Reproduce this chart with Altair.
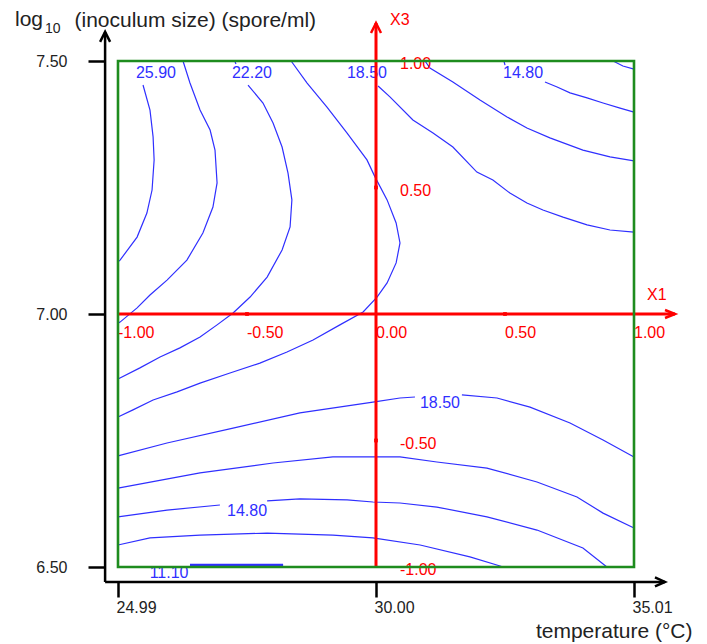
import altair as alt
import pandas as pd

FONT = "Liberation Sans, Arial, sans-serif"
BLUE = "#2f2fff"
RED = "#ff0000"
GREEN = "#1e8c1e"

# ---- contour pieces, coded units (X1 = temperature, X3 = log10 inoculum size) ----
c2590_x = [-0.903, -0.876, -0.864, -0.860, -0.868, -0.888, -0.926, -0.992, -1.0]
c2590_y = [0.905, 0.806, 0.700, 0.609, 0.490, 0.399, 0.304, 0.213, 0.206]

c2405_x = [-0.748, -0.721, -0.682, -0.643, -0.624, -0.616, -0.632, -0.671, -0.733, -0.810, -0.876, -0.926, -0.992, -1.0]
c2405_y = [1.0, 0.913, 0.806, 0.727, 0.648, 0.518, 0.423, 0.320, 0.213, 0.134, 0.075, 0.024, -0.032, -0.036]

c2220a_x = [-0.547, -0.543]
c2220a_y = [1.0, 0.988]
c2220b_x = [-0.496, -0.438, -0.399, -0.364, -0.341, -0.326, -0.333, -0.364, -0.422, -0.488, -0.554, -0.616, -0.682, -0.760, -0.837, -0.915, -1.0]
c2220b_y = [0.905, 0.834, 0.755, 0.660, 0.557, 0.451, 0.344, 0.253, 0.146, 0.067, 0.004, -0.043, -0.091, -0.134, -0.170, -0.213, -0.257]

c2035_x = [-0.329, -0.267, -0.190, -0.112, -0.035, -0.004, 0.043, 0.078, 0.093, 0.078, 0.043, 0.004, -0.050, -0.140, -0.244, -0.345, -0.450, -0.566, -0.682, -0.771, -0.864, -0.942, -1.0]
c2035_y = [1.0, 0.913, 0.818, 0.715, 0.609, 0.542, 0.451, 0.360, 0.281, 0.202, 0.123, 0.067, 0.008, -0.043, -0.103, -0.150, -0.194, -0.233, -0.273, -0.308, -0.340, -0.379, -0.407]

c1850a_x = [0.008, 0.054, 0.143, 0.221, 0.298, 0.391, 0.453, 0.519, 0.585, 0.647, 0.725, 0.818, 0.907, 1.0]
c1850a_y = [0.901, 0.858, 0.767, 0.715, 0.660, 0.561, 0.530, 0.478, 0.439, 0.411, 0.383, 0.352, 0.332, 0.324]
c1850b_x = [-1.0, -0.810, -0.554, -0.295, -0.012, 0.093, 0.151]
c1850b_y = [-0.561, -0.510, -0.451, -0.391, -0.348, -0.332, -0.328]
c1850c_x = [0.333, 0.469, 0.597, 0.752, 0.880, 1.0]
c1850c_y = [-0.320, -0.332, -0.368, -0.431, -0.498, -0.565]

c1665a_x = [0.190, 0.209, 0.298, 0.403, 0.508, 0.585, 0.674, 0.802, 0.907, 1.0]
c1665a_y = [1.0, 0.972, 0.917, 0.846, 0.779, 0.735, 0.696, 0.648, 0.621, 0.605]
c1665b_x = [-1.0, -0.682, -0.399, -0.167, -0.023, 0.093, 0.236, 0.430, 0.624, 0.779, 0.880, 1.0]
c1665b_y = [-0.688, -0.628, -0.589, -0.565, -0.565, -0.565, -0.585, -0.609, -0.664, -0.723, -0.787, -0.846]

c1480a_x = [0.496, 0.500]
c1480a_y = [1.0, 0.984]
c1480b_x = [0.655, 0.702, 0.752, 0.818, 0.880, 0.946, 1.0]
c1480b_y = [0.917, 0.897, 0.874, 0.854, 0.834, 0.814, 0.798]
c1480c_x = [-1.0, -0.810, -0.605]
c1480c_y = [-0.802, -0.775, -0.755]
c1480d_x = [-0.422, -0.295, -0.112, -0.012, 0.093, 0.236, 0.430, 0.624, 0.802, 0.895]
c1480d_y = [-0.739, -0.731, -0.735, -0.743, -0.747, -0.763, -0.802, -0.854, -0.925, -1.0]

c1295a_x = [0.919, 0.957, 1.0]
c1295a_y = [1.0, 0.980, 0.968]
c1295b_x = [-1.0, -0.876, -0.682, -0.422, -0.167, -0.012, 0.171, 0.364, 0.481, 0.492]
c1295b_y = [-0.913, -0.885, -0.874, -0.866, -0.874, -0.885, -0.913, -0.960, -0.996, -1.0]

c1110_x = [-0.721, -0.360]
c1110_y = [-0.992, -0.992]

# contour labels
lab_text = ["25.90", "22.20", "18.50", "14.80", "18.50", "14.80", "11.10"]
lab_x = [-0.853, -0.481, -0.035, 0.570, 0.248, -0.500, -0.802]
lab_y = [0.953, 0.953, 0.953, 0.953, -0.352, -0.779, -1.024]

# coded axes (red)
x1_ticks = [-1.0, -0.5, 0.0, 0.5, 1.0]
x1_labels = ["-1.00", "-0.50", "0.00", "0.50", "1.00"]
x3_ticks = [1.0, 0.5, -0.5, -1.0]
x3_labels = ["1.00", "0.50", "-0.50", "-1.00"]
x1_extent = [-1.0, 1.159]
x3_extent = [-1.0, 1.15]

# real-unit axes (black)
real_ticks = [-1, 0, 1]
temp_labels = ["24.99", "30.00", "35.01"]
inoc_labels = ["6.50", "7.00", "7.50"]
black_x_extent = [-1.050, 1.120]
black_y_extent = [-1.059, 1.115]

# ---- build tables ----
pieces = [
    ("c2590", c2590_x, c2590_y), ("c2405", c2405_x, c2405_y),
    ("c2220a", c2220a_x, c2220a_y), ("c2220b", c2220b_x, c2220b_y),
    ("c2035", c2035_x, c2035_y),
    ("c1850a", c1850a_x, c1850a_y), ("c1850b", c1850b_x, c1850b_y), ("c1850c", c1850c_x, c1850c_y),
    ("c1665a", c1665a_x, c1665a_y), ("c1665b", c1665b_x, c1665b_y),
    ("c1480a", c1480a_x, c1480a_y), ("c1480b", c1480b_x, c1480b_y),
    ("c1480c", c1480c_x, c1480c_y), ("c1480d", c1480d_x, c1480d_y),
    ("c1295a", c1295a_x, c1295a_y), ("c1295b", c1295b_x, c1295b_y),
]
rows = []
for name, xs_, ys_ in pieces:
    for i, (a, b) in enumerate(zip(xs_, ys_)):
        rows.append({"seg": name, "i": i, "x": a, "y": b})
df_lines = pd.DataFrame(rows)
df_1110 = pd.DataFrame({"seg": "c1110", "i": [0, 1], "x": c1110_x, "y": c1110_y})
df_lab = pd.DataFrame({"t": lab_text, "x": lab_x, "y": lab_y})

df_x1lab = pd.DataFrame({"x": x1_ticks, "y": [0.0] * len(x1_ticks), "t": x1_labels})
df_x3lab = pd.DataFrame({"x": [0.0] * len(x3_ticks), "y": x3_ticks, "t": x3_labels})
df_redticks = pd.DataFrame({"x": [-0.5, 0.5, 0.0, 0.0], "y": [0.0, 0.0, 0.5, -0.5]})
df_redlines = pd.DataFrame({
    "x": [x1_extent[0], 0.0], "x2": [x1_extent[1], 0.0],
    "y": [0.0, x3_extent[0]], "y2": [0.0, x3_extent[1]],
})
df_red_right = pd.DataFrame({"x": [x1_extent[1]], "y": [0.0]})
df_red_up = pd.DataFrame({"x": [0.0], "y": [x3_extent[1]]})
df_axname = pd.DataFrame({"x": [1.0, 0.0], "y": [0.0, x3_extent[1]], "t": ["X1", "X3"]})
df_box = pd.DataFrame({"x": [-1.0], "x2": [1.0], "y": [-1.0], "y2": [1.0]})
df_black = pd.DataFrame({
    "x": [black_x_extent[0], black_x_extent[0]], "x2": [black_x_extent[0], black_x_extent[1]],
    "y": [black_y_extent[0], black_y_extent[0]], "y2": [black_y_extent[1], black_y_extent[0]],
})
df_black_up = pd.DataFrame({"x": [black_x_extent[0]], "y": [black_y_extent[1]]})
df_black_right = pd.DataFrame({"x": [black_x_extent[1]], "y": [black_y_extent[0]]})


def label_expr(vals, labs):
    expr = "''"
    for v, l in zip(vals, labs):
        expr = f"datum.value == {v} ? '{l}' : ({expr})"
    return expr


xscale = alt.Scale(domain=[-1, 1], nice=False, zero=False)
yscale = alt.Scale(domain=[-1, 1], nice=False, zero=False)

xaxis = alt.Axis(
    values=real_ticks, labelExpr=label_expr(real_ticks, temp_labels),
    offset=15, tickSize=15, tickWidth=2.5, tickColor="#000", domain=False, grid=False,
    labelAlign="left", labelBaseline="top", labelPadding=2, labelOffset=-2,
    labelFont=FONT, labelFontSize=16, labelColor="#222",
    title="temperature (°C)", titleFont=FONT, titleFontSize=21, titleFontWeight="normal",
    titleColor="#222", titleX=574, titleY=55, titleAlign="right", titleBaseline="alphabetic",
)
yaxis = alt.Axis(
    values=real_ticks, labelExpr=label_expr(real_ticks, inoc_labels),
    offset=13, tickSize=17, tickWidth=2.5, tickColor="#000", domain=False, grid=False,
    labelAlign="right", labelBaseline="middle", labelPadding=21,
    labelFont=FONT, labelFontSize=16, labelColor="#222",
    title="(inoculum size) (spore/ml)", titleFont=FONT, titleFontSize=21, titleFontWeight="normal",
    titleColor="#222", titleAngle=0, titleX=-31, titleY=-35, titleAlign="left",
    titleBaseline="alphabetic",
)


def X(field="x"):
    return alt.X(f"{field}:Q", scale=xscale, axis=xaxis)


def Y(field="y"):
    return alt.Y(f"{field}:Q", scale=yscale, axis=yaxis)


contours = alt.Chart(df_lines).mark_line(color=BLUE, strokeWidth=1.2).encode(
    x=X(), y=Y(), detail="seg:N", order="i:Q")
c1110 = alt.Chart(df_1110).mark_line(color=BLUE, strokeWidth=2.6).encode(
    x=X(), y=Y(), detail="seg:N", order="i:Q")
clabels = alt.Chart(df_lab).mark_text(font=FONT, fontSize=16, color=BLUE, align="center",
                                      baseline="middle").encode(x=X(), y=Y(), text="t:N")

redlines = alt.Chart(df_redlines).mark_rule(color=RED, strokeWidth=3).encode(
    x=X(), x2="x2:Q", y=Y(), y2="y2:Q")
redticks = alt.Chart(df_redticks).mark_point(shape="square", filled=True, color=RED, size=14,
                                             opacity=1).encode(x=X(), y=Y())
red_right = alt.Chart(df_red_right).mark_point(shape="M-1,-0.4L0,0L-1,0.4", filled=False, color=RED,
                                               strokeWidth=2.5, size=400, opacity=1).encode(x=X(), y=Y())
red_up = alt.Chart(df_red_up).mark_point(shape="M-0.5,1L0,0L0.5,1", filled=False, color=RED,
                                         strokeWidth=2.5, size=400, opacity=1).encode(x=X(), y=Y())
x1lab = alt.Chart(df_x1lab).mark_text(font=FONT, fontSize=16, color=RED, align="left",
                                      baseline="middle", dy=19).encode(x=X(), y=Y(), text="t:N")
x3lab = alt.Chart(df_x3lab).mark_text(font=FONT, fontSize=16, color=RED, align="left",
                                      baseline="middle", dx=24, dy=3).encode(x=X(), y=Y(), text="t:N")
axname_x1 = alt.Chart(df_axname.iloc[[0]]).mark_text(font=FONT, fontSize=16, color=RED, align="left",
                                                     baseline="middle", dx=13, dy=-19).encode(
    x=X(), y=Y(), text="t:N")
axname_x3 = alt.Chart(df_axname.iloc[[1]]).mark_text(font=FONT, fontSize=16, color=RED, align="left",
                                                     baseline="middle", dx=14, dy=-3).encode(
    x=X(), y=Y(), text="t:N")

box = alt.Chart(df_box).mark_rect(fillOpacity=0, stroke=GREEN, strokeWidth=2.6).encode(
    x=X(), x2="x2:Q", y=Y(), y2="y2:Q")

black = alt.Chart(df_black).mark_rule(color="#000", strokeWidth=2.5).encode(
    x=X(), x2="x2:Q", y=Y(), y2="y2:Q")
black_up = alt.Chart(df_black_up).mark_point(shape="M-0.5,1L0,0L0.5,1", filled=False, color="#000",
                                             strokeWidth=2.5, size=400, opacity=1).encode(x=X(), y=Y())
black_right = alt.Chart(df_black_right).mark_point(shape="M-1,-0.45L0,0L-1,0.45", filled=False,
                                                   color="#000", strokeWidth=2.5, size=400,
                                                   opacity=1).encode(x=X(), y=Y())

log_txt = alt.Chart(pd.DataFrame({"t": ["log"]})).mark_text(
    font=FONT, fontSize=21, color="#222", align="left", baseline="alphabetic").encode(
    x=alt.value(-103), y=alt.value(-35), text="t:N")
sub_txt = alt.Chart(pd.DataFrame({"t": ["10"]})).mark_text(
    font=FONT, fontSize=14, color="#222", align="left", baseline="alphabetic").encode(
    x=alt.value(-73), y=alt.value(-28), text="t:N")

chart = alt.layer(
    contours, c1110, clabels,
    redlines, redticks, red_right, red_up, x1lab, x3lab, axname_x1, axname_x3,
    box, black, black_up, black_right, log_txt, sub_txt,
).properties(
    width=516, height=506,
    autosize=alt.AutoSizeParams(type="none"),
    padding={"left": 110, "top": 53, "right": 65, "bottom": 77},
    background="white",
).configure_view(strokeWidth=0)

chart.save("out.html", embed_options={"renderer": "svg", "actions": False})
